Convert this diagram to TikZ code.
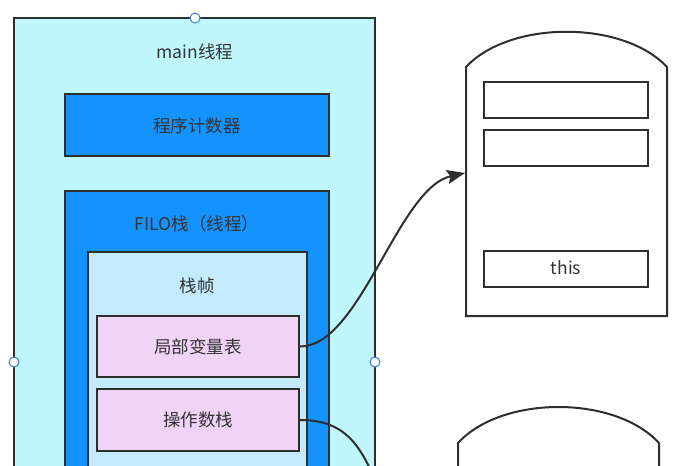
\documentclass[tikz,border=0pt]{standalone}
\usepackage{fontspec}
\setmainfont{Noto Sans CJK SC}
\usetikzlibrary{arrows.meta}
\definecolor{mainfill}{HTML}{C0F7FD}
\definecolor{bluefill}{HTML}{1493FF}
\definecolor{framefill}{HTML}{C4EBFB}
\definecolor{pinkfill}{HTML}{F2D3F8}
\definecolor{edge}{HTML}{2E2E2E}
\definecolor{txt}{HTML}{333333}
\definecolor{handle}{HTML}{3D7BD9}
\tikzset{
  box/.style={draw=edge, line width=2, rectangle, inner sep=0pt},
  lbl/.style={text=txt, font=\fontsize{17.5}{20}\selectfont, inner sep=0pt},
  conn/.style={draw=edge, line width=2},
  grip/.style={circle, draw=handle, fill=white, line width=1, minimum size=10, inner sep=0pt},
  slot/.style={box, fill=white, minimum width=164, minimum height=36}
}
\begin{document}
\begin{tikzpicture}[x=1pt,y=-1pt]
\useasboundingbox (0,0) rectangle (681,466);
\fill[white] (0,0) rectangle (681,466);
\clip (0,0) rectangle (681,466);
% main thread
\node[box, fill=mainfill, minimum width=361, minimum height=560, anchor=north] (main) at (194.5,17) {};
\node[lbl] (maint) at (195,52) {main线程};
\node[box, fill=bluefill, minimum width=264, minimum height=62] (pc) at (197,125) {};
\node[lbl] (pct) at (197,126) {程序计数器};
\node[box, fill=bluefill, minimum width=264, minimum height=400, anchor=north] (filo) at (197,190) {};
\node[lbl] (filot) at (197,224) {FILO栈（线程）};
\node[box, fill=framefill, minimum width=219, minimum height=400, anchor=north] (frame) at (197.5,251) {};
\node[lbl] (framet) at (197,286) {栈帧};
\node[box, fill=pinkfill, minimum width=202, minimum height=61] (lv) at (198,346.5) {};
\node[lbl] (lvt) at (198,347) {局部变量表};
\node[box, fill=pinkfill, minimum width=202, minimum height=62] (ops) at (198,420) {};
\node[lbl] (opst) at (198,420) {操作数栈};
% object 1
\draw[draw=edge, line width=2, fill=white] (466,316) -- (466,67) .. controls (510,20) and (623,20) .. (667,67) -- (667,316) -- cycle;
\coordinate (obj1w) at (465,173);
\node[slot] (s1) at (566,100) {};
\node[slot] (s2) at (566,148) {};
\node[slot] (s3) at (566,268.5) {};
\node[lbl] (thist) at (566,268) {this};
% object 2
\draw[draw=edge, line width=2, fill=white] (458,520) -- (458,443) .. controls (502,395) and (615,395) .. (659,443) -- (659,520);
\coordinate (obj2e) at (376,482);
% connectors
\draw[conn, -{Stealth[length=18, width=14, inset=3]}] (lv.east) .. controls (360,347) and (398,188) .. (obj1w);
\draw[conn] (ops.east) .. controls (345,420) and (360,445) .. (obj2e);
% selection handles
\node[grip] (h1) at (195,18) {};
\node[grip] (h2) at (14,362) {};
\node[grip] (h3) at (375,362) {};
\end{tikzpicture}
\end{document}
